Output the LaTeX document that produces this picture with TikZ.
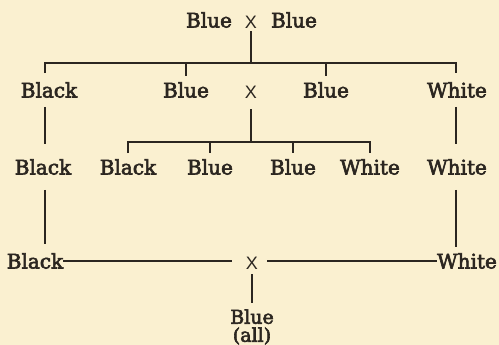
\documentclass[tikz,border=0pt]{standalone}
\usepackage{fontspec}
\setmainfont{DejaVu Serif}[FakeBold=3]
\newfontfamily\xfont{Liberation Sans}
\definecolor{paper}{HTML}{FAF0D0}
\definecolor{ink}{HTML}{2B2620}
\begin{document}
\begin{tikzpicture}[x=1pt,y=-1pt,
  lbl/.style={inner sep=0pt,text=ink,font=\fontsize{20}{20}\selectfont},
  xs/.style={inner sep=0pt,text=ink,font=\xfont\fontsize{18}{18}\selectfont},
  ln/.style={draw=ink,line width=1.2pt}]
\fill[paper] (0,0) rectangle (499,345);
\useasboundingbox (0,0) rectangle (499,345);
% top
\node[lbl] (p1) at (209,20) {Blue};
\node[xs]  (x1) at (251,22) {X};
\node[lbl] (p2) at (294,20) {Blue};
% row 2
\node[lbl] (a1) at (49,90) {Black};
\node[lbl] (a2) at (186,90) {Blue};
\node[xs]  (ax) at (251,92) {X};
\node[lbl] (a3) at (326,90) {Blue};
\node[lbl] (a4) at (457,90) {White};
% row 3
\node[lbl] (r1) at (43,167) {Black};
\node[lbl] (r2) at (128,167) {Black};
\node[lbl] (r3) at (210,167) {Blue};
\node[lbl] (r4) at (293,167) {Blue};
\node[lbl] (r5) at (370,167) {White};
\node[lbl] (r6) at (457,167) {White};
% row 4
\node[lbl] (f1) at (35,261) {Black};
\node[xs]  (fx) at (252,263) {X};
\node[lbl] (f2) at (467,261) {White};
\node[lbl,align=center,font=\fontsize{19}{18}\selectfont] (o) at (252,327) {Blue\\(all)};
% coordinates
\coordinate (bus1) at (0,63);
\coordinate (bus2) at (0,142);
\coordinate (vl) at (45,0);
\coordinate (vr) at (456,0);
% first cross
\draw[ln,shorten <=3pt] (x1.south) -- (x1 |- bus1);
\draw[ln] ([yshift=9pt]a1.north -| vl) -- (bus1 -| vl) -- (bus1 -| vr) -- ([yshift=9pt]a4.north -| vr);
\draw[ln] (bus1 -| a2) -- ([yshift=6pt]a2.north);
\draw[ln] (bus1 -| a3) -- ([yshift=6pt]a3.north);
% second cross
\draw[ln,shorten <=11pt] (ax.south) -- (ax |- bus2);
\draw[ln] ([yshift=6pt]r2.north) -- (bus2 -| r2) -- (bus2 -| r5) -- ([yshift=6pt]r5.north);
\draw[ln] (bus2 -| r3) -- ([yshift=6pt]r3.north);
\draw[ln] (bus2 -| r4) -- ([yshift=6pt]r4.north);
% side columns
\draw[ln,shorten <=9pt,shorten >=15pt] (a1.south -| vl) -- (r1.north -| vl);
\draw[ln,shorten <=15pt,shorten >=9pt] (r1.south -| vl) -- (f1.north -| vl);
\draw[ln,shorten <=9pt,shorten >=15pt] (a4.south -| vr) -- (r6.north -| vr);
\draw[ln,shorten <=15pt,shorten >=6pt] (r6.south -| vr) -- (f2.north -| vr);
% final cross
\draw[ln,shorten >=14pt] (f1.east) -- (fx.west |- f1.east);
\draw[ln,shorten <=9pt] (fx.east |- f2.west) -- (f2.west);
\draw[ln,shorten <=5pt,shorten >=6pt] (fx.south) -- (o.north);
\end{tikzpicture}
\end{document}
